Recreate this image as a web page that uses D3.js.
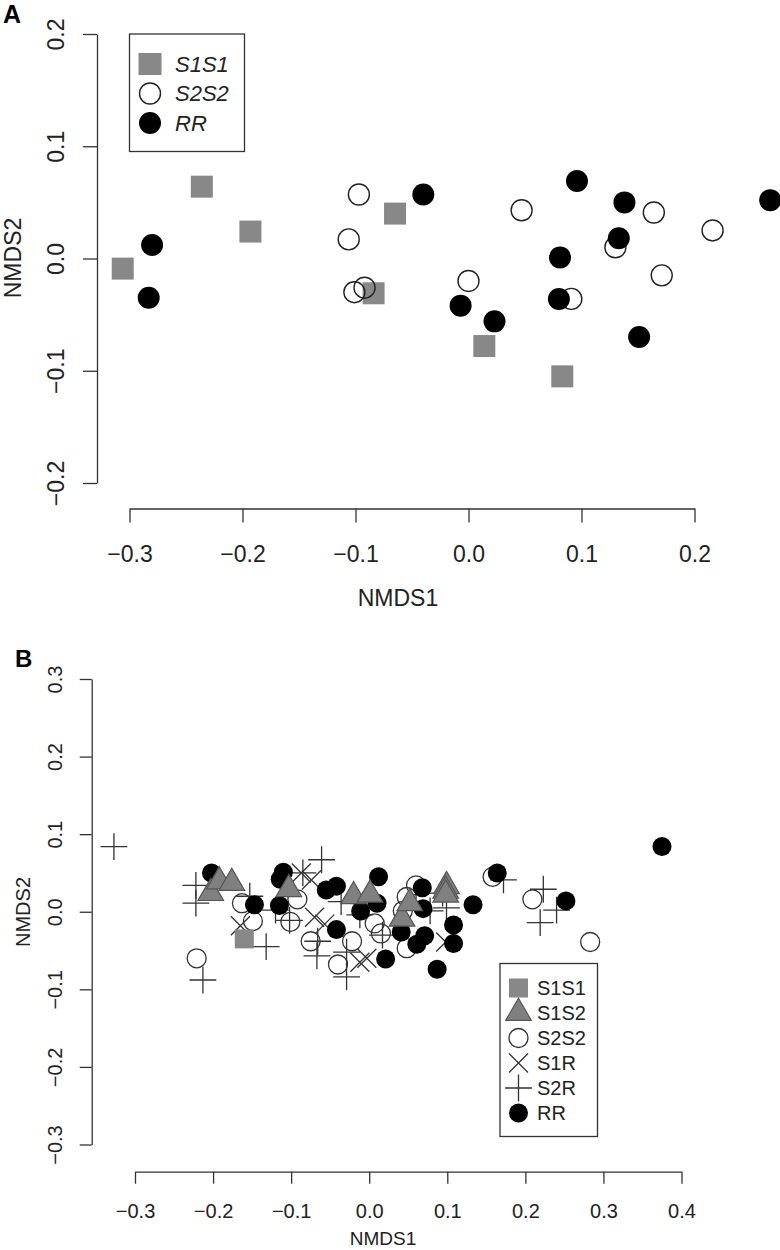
<!DOCTYPE html>
<html>
<head>
<meta charset="utf-8">
<script src="https://cdn.jsdelivr.net/npm/d3@7/dist/d3.min.js"></script>
<style>
  html, body { margin: 0; padding: 0; background: #fff; }
  svg { display: block; font-family: "Liberation Sans", Arial, Helvetica, sans-serif; }
</style>
</head>
<body>
<svg id="chart" width="780" height="1250"></svg>
<script>
// ---------- Panel A data (NMDS1, NMDS2) ----------
const aS1S1 = [[-0.306,-0.009],[-0.236,0.064],[-0.193,0.024],[-0.065,0.040],[-0.084,-0.031],[0.014,-0.078],[0.083,-0.105]];
const aS2S2 = [[-0.097,0.057],[-0.106,0.017],[-0.101,-0.030],[-0.092,-0.026],[0.000,-0.020],[0.047,0.043],[0.130,0.010],[0.164,0.041],[0.216,0.025],[0.171,-0.015],[0.091,-0.036]];
const aRR   = [[-0.280,0.012],[-0.283,-0.035],[-0.040,0.057],[0.096,0.069],[0.138,0.050],[0.133,0.018],[0.081,0.001],[0.267,0.052],[-0.007,-0.042],[0.023,-0.056],[0.080,-0.036],[0.151,-0.070]];
const aXTicks = [-0.3,-0.2,-0.1,0.0,0.1,0.2];
const aYTicks = [-0.2,-0.1,0.0,0.1,0.2];
const aLegend = ["S1S1","S2S2","RR"];

// ---------- Panel B data ----------
const bS1S1 = [[-0.160,-0.035]];
const bS1S2 = [[-0.203,0.024],[-0.192,0.039],[-0.176,0.037],[-0.103,0.029],[-0.020,0.020],[0.001,0.022],[0.042,-0.009],[0.052,0.011],[0.099,0.033],[0.098,0.027],[0.098,0.022]];
const bS2S2 = [[-0.221,-0.060],[-0.163,0.011],[-0.149,-0.012],[-0.101,-0.013],[-0.092,0.016],[-0.075,-0.038],[-0.040,-0.068],[-0.022,-0.038],[0.007,-0.015],[0.015,-0.028],[0.060,0.034],[0.048,0.019],[0.043,0.001],[0.048,-0.047],[0.158,0.045],[0.209,0.016],[0.283,-0.039]];
const bS1R  = [[-0.165,-0.018],[-0.087,0.050],[-0.074,0.041],[-0.070,-0.007],[-0.057,-0.016],[-0.012,-0.065],[-0.003,-0.060],[0.098,-0.039]];
const bS2R  = [[-0.327,0.084],[-0.222,0.034],[-0.222,0.011],[-0.213,-0.088],[-0.153,0.020],[-0.132,-0.045],[-0.120,0.002],[-0.102,-0.011],[-0.085,0.050],[-0.061,0.067],[-0.066,-0.038],[-0.067,-0.057],[-0.036,0.013],[-0.029,-0.052],[-0.029,-0.084],[-0.012,-0.004],[0.017,-0.030],[0.094,0.024],[0.099,0.005],[0.078,0.001],[0.172,0.041],[0.223,0.029],[0.219,-0.014],[0.240,0.002]];
const bRR   = [[-0.202,0.050],[-0.147,0.009],[-0.115,0.008],[-0.110,0.051],[-0.114,0.042],[-0.055,0.028],[-0.042,0.033],[0.012,0.045],[0.010,0.011],[-0.011,0.001],[-0.042,-0.023],[0.021,-0.061],[0.068,0.031],[0.069,0.004],[0.041,-0.026],[0.061,-0.042],[0.071,-0.031],[0.108,-0.017],[0.108,-0.041],[0.087,-0.074],[0.133,0.009],[0.164,0.050],[0.252,0.014],[0.375,0.084]];
const bXTicks = [-0.3,-0.2,-0.1,0.0,0.1,0.2,0.3,0.4];
const bYTicks = [-0.3,-0.2,-0.1,0.0,0.1,0.2,0.3];
const bLegend = ["S1S1","S1S2","S2S2","S1R","S2R","RR"];

// ---------- styles ----------
const INK = "#222";
const AXIS = "#333";
const GRAY = "#888";
const TRI_FILL = "#808080";
const TRI_STROKE = "#555";
const fmt = d3.format(".1f");

const svg = d3.select("#chart");

// symbol path generators (centered at 0,0)
function trianglePath(xc) {
  const r = 1.555 * xc, yc = 0.778 * xc, w = 1.347 * xc;
  return `M0,${-r}L${w},${yc}L${-w},${yc}Z`;
}
function plusPath(h) { return `M${-h},0H${h}M0,${-h}V${h}`; }
function crossPath(h) { return `M${-h},${-h}L${h},${h}M${-h},${h}L${h},${-h}`; }

function drawAxes(g, x, y, xTicks, yTicks, o) {
  const xa = d3.axisBottom(x).tickValues(xTicks).tickFormat(fmt)
    .tickSizeInner(o.tick).tickSizeOuter(0).tickPadding(o.xPad);
  const gx = g.append("g").attr("transform", `translate(0,${o.xAxisY})`).call(xa);
  const ya = d3.axisLeft(y).tickValues(yTicks).tickFormat(fmt)
    .tickSizeInner(o.tick).tickSizeOuter(0);
  const gy = g.append("g").attr("transform", `translate(${o.yAxisX},0)`).call(ya);
  [gx, gy].forEach(a => {
    a.attr("font-family", null).attr("font-size", null);
    a.selectAll("path.domain").attr("stroke", AXIS).attr("stroke-width", 1.3);
    a.selectAll(".tick line").attr("stroke", AXIS).attr("stroke-width", 1.3);
    a.selectAll(".tick text").attr("fill", INK).style("font-size", o.fs + "px");
  });
  gy.selectAll(".tick text")
    .attr("x", null).attr("dy", null)
    .attr("text-anchor", "middle")
    .attr("transform", `translate(${o.yLabelBase - o.yAxisX},0) rotate(-90)`);
}

// ================= Panel A =================
(function () {
  const g = svg.append("g");
  const x = d3.scaleLinear().domain([-0.3, 0.2]).range([129.5, 694.5]);
  const y = d3.scaleLinear().domain([-0.2, 0.2]).range([483, 34]);
  drawAxes(g, x, y, aXTicks, aYTicks, { tick: 14, xPad: 23, xAxisY: 508.5, yAxisX: 97, yLabelBase: 63.5, fs: 23 });

  g.append("text").attr("x", 3).attr("y", 23).attr("font-weight", "bold").attr("font-size", 25).attr("fill", "#000").text("A");
  g.append("text").attr("x", 398).attr("y", 606).attr("text-anchor", "middle").attr("font-size", 23).attr("fill", INK).text("NMDS1");
  g.append("text").attr("transform", "translate(21,258) rotate(-90)").attr("text-anchor", "middle").attr("font-size", 23).attr("fill", INK).text("NMDS2");

  const s = 22;
  g.append("g").selectAll("rect").data(aS1S1).join("rect")
    .attr("x", d => x(d[0]) - s / 2).attr("y", d => y(d[1]) - s / 2)
    .attr("width", s).attr("height", s).attr("fill", GRAY);
  g.append("g").selectAll("circle").data(aS2S2).join("circle")
    .attr("cx", d => x(d[0])).attr("cy", d => y(d[1])).attr("r", 10.5)
    .attr("fill", "none").attr("stroke", "#222").attr("stroke-width", 1.4);
  g.append("g").selectAll("circle").data(aRR).join("circle")
    .attr("cx", d => x(d[0])).attr("cy", d => y(d[1])).attr("r", 11)
    .attr("fill", "#000");

  // legend
  const lg = g.append("g");
  lg.append("rect").attr("x", 129.5).attr("y", 34).attr("width", 115).attr("height", 117.5)
    .attr("fill", "#fff").attr("stroke", AXIS).attr("stroke-width", 1.3);
  const rows = aLegend.map((k, i) => ({ k, i }));
  const ly = i => 64 + i * 29.5;
  lg.selectAll("text").data(rows).join("text")
    .attr("x", 175).attr("y", d => ly(d.i)).attr("dy", "0.36em")
    .attr("font-size", 22).attr("font-style", "italic").attr("fill", INK).text(d => d.k);
  lg.append("rect").attr("x", 150 - 11.5).attr("y", ly(0) - 11).attr("width", 23).attr("height", 22).attr("fill", GRAY);
  lg.append("circle").attr("cx", 150).attr("cy", ly(1)).attr("r", 10.5).attr("fill", "none").attr("stroke", "#222").attr("stroke-width", 1.4);
  lg.append("circle").attr("cx", 150).attr("cy", ly(2)).attr("r", 11).attr("fill", "#000");
})();

// ================= Panel B =================
(function () {
  const g = svg.append("g");
  const x = d3.scaleLinear().domain([-0.3, 0.4]).range([135, 681.5]);
  const y = d3.scaleLinear().domain([-0.3, 0.3]).range([1144.5, 679]);
  drawAxes(g, x, y, bXTicks, bYTicks, { tick: 12, xPad: 20, xAxisY: 1171.7, yAxisX: 91.7, yLabelBase: 62, fs: 20 });

  g.append("text").attr("x", 15).attr("y", 667).attr("font-weight", "bold").attr("font-size", 24).attr("fill", "#000").text("B");
  g.append("text").attr("x", 383).attr("y", 1245).attr("text-anchor", "middle").attr("font-size", 19).attr("fill", INK).text("NMDS1");
  g.append("text").attr("transform", "translate(30,912) rotate(-90)").attr("text-anchor", "middle").attr("font-size", 20).attr("fill", INK).text("NMDS2");

  const R = 9.5;
  g.append("g").selectAll("circle").data(bS2S2).join("circle")
    .attr("cx", d => x(d[0])).attr("cy", d => y(d[1])).attr("r", R)
    .attr("fill", "none").attr("stroke", "#333").attr("stroke-width", 1.3);
  g.append("g").selectAll("path").data(bS1R).join("path")
    .attr("transform", d => `translate(${x(d[0])},${y(d[1])})`).attr("d", crossPath(R))
    .attr("fill", "none").attr("stroke", "#333").attr("stroke-width", 1.3);
  g.append("g").selectAll("path").data(bS2R).join("path")
    .attr("transform", d => `translate(${x(d[0])},${y(d[1])})`).attr("d", plusPath(13.4))
    .attr("fill", "none").attr("stroke", "#333").attr("stroke-width", 1.3);
  g.append("g").selectAll("circle").data(bRR).join("circle")
    .attr("cx", d => x(d[0])).attr("cy", d => y(d[1])).attr("r", R).attr("fill", "#000");
  g.append("g").selectAll("rect").data(bS1S1).join("rect")
    .attr("x", d => x(d[0]) - 9.5).attr("y", d => y(d[1]) - 9.5)
    .attr("width", 19).attr("height", 19).attr("fill", GRAY);
  g.append("g").selectAll("path").data(bS1S2).join("path")
    .attr("transform", d => `translate(${x(d[0])},${y(d[1])})`).attr("d", trianglePath(R))
    .attr("fill", TRI_FILL).attr("stroke", TRI_STROKE).attr("stroke-width", 1.2);

  // legend
  const lg = g.append("g");
  lg.append("rect").attr("x", 500).attr("y", 963.5).attr("width", 97.5).attr("height", 173)
    .attr("fill", "#fff").attr("stroke", AXIS).attr("stroke-width", 1.3);
  const ly = i => 988 + i * 25;
  const sx = 518.5;
  lg.selectAll("text").data(bLegend.map((k, i) => ({ k, i }))).join("text")
    .attr("x", 537).attr("y", d => ly(d.i)).attr("dy", "0.36em")
    .attr("font-size", 20).attr("fill", INK).text(d => d.k);
  lg.append("rect").attr("x", sx - 9.5).attr("y", ly(0) - 9.5).attr("width", 19).attr("height", 19).attr("fill", GRAY);
  lg.append("path").attr("transform", `translate(${sx},${ly(1)})`).attr("d", trianglePath(R))
    .attr("fill", TRI_FILL).attr("stroke", TRI_STROKE).attr("stroke-width", 1.2);
  lg.append("circle").attr("cx", sx).attr("cy", ly(2)).attr("r", R).attr("fill", "none").attr("stroke", "#333").attr("stroke-width", 1.3);
  lg.append("path").attr("transform", `translate(${sx},${ly(3)})`).attr("d", crossPath(R))
    .attr("fill", "none").attr("stroke", "#333").attr("stroke-width", 1.3);
  lg.append("path").attr("transform", `translate(${sx},${ly(4)})`).attr("d", plusPath(13.4))
    .attr("fill", "none").attr("stroke", "#333").attr("stroke-width", 1.3);
  lg.append("circle").attr("cx", sx).attr("cy", ly(5)).attr("r", R).attr("fill", "#000");
})();
</script>
</body>
</html>
